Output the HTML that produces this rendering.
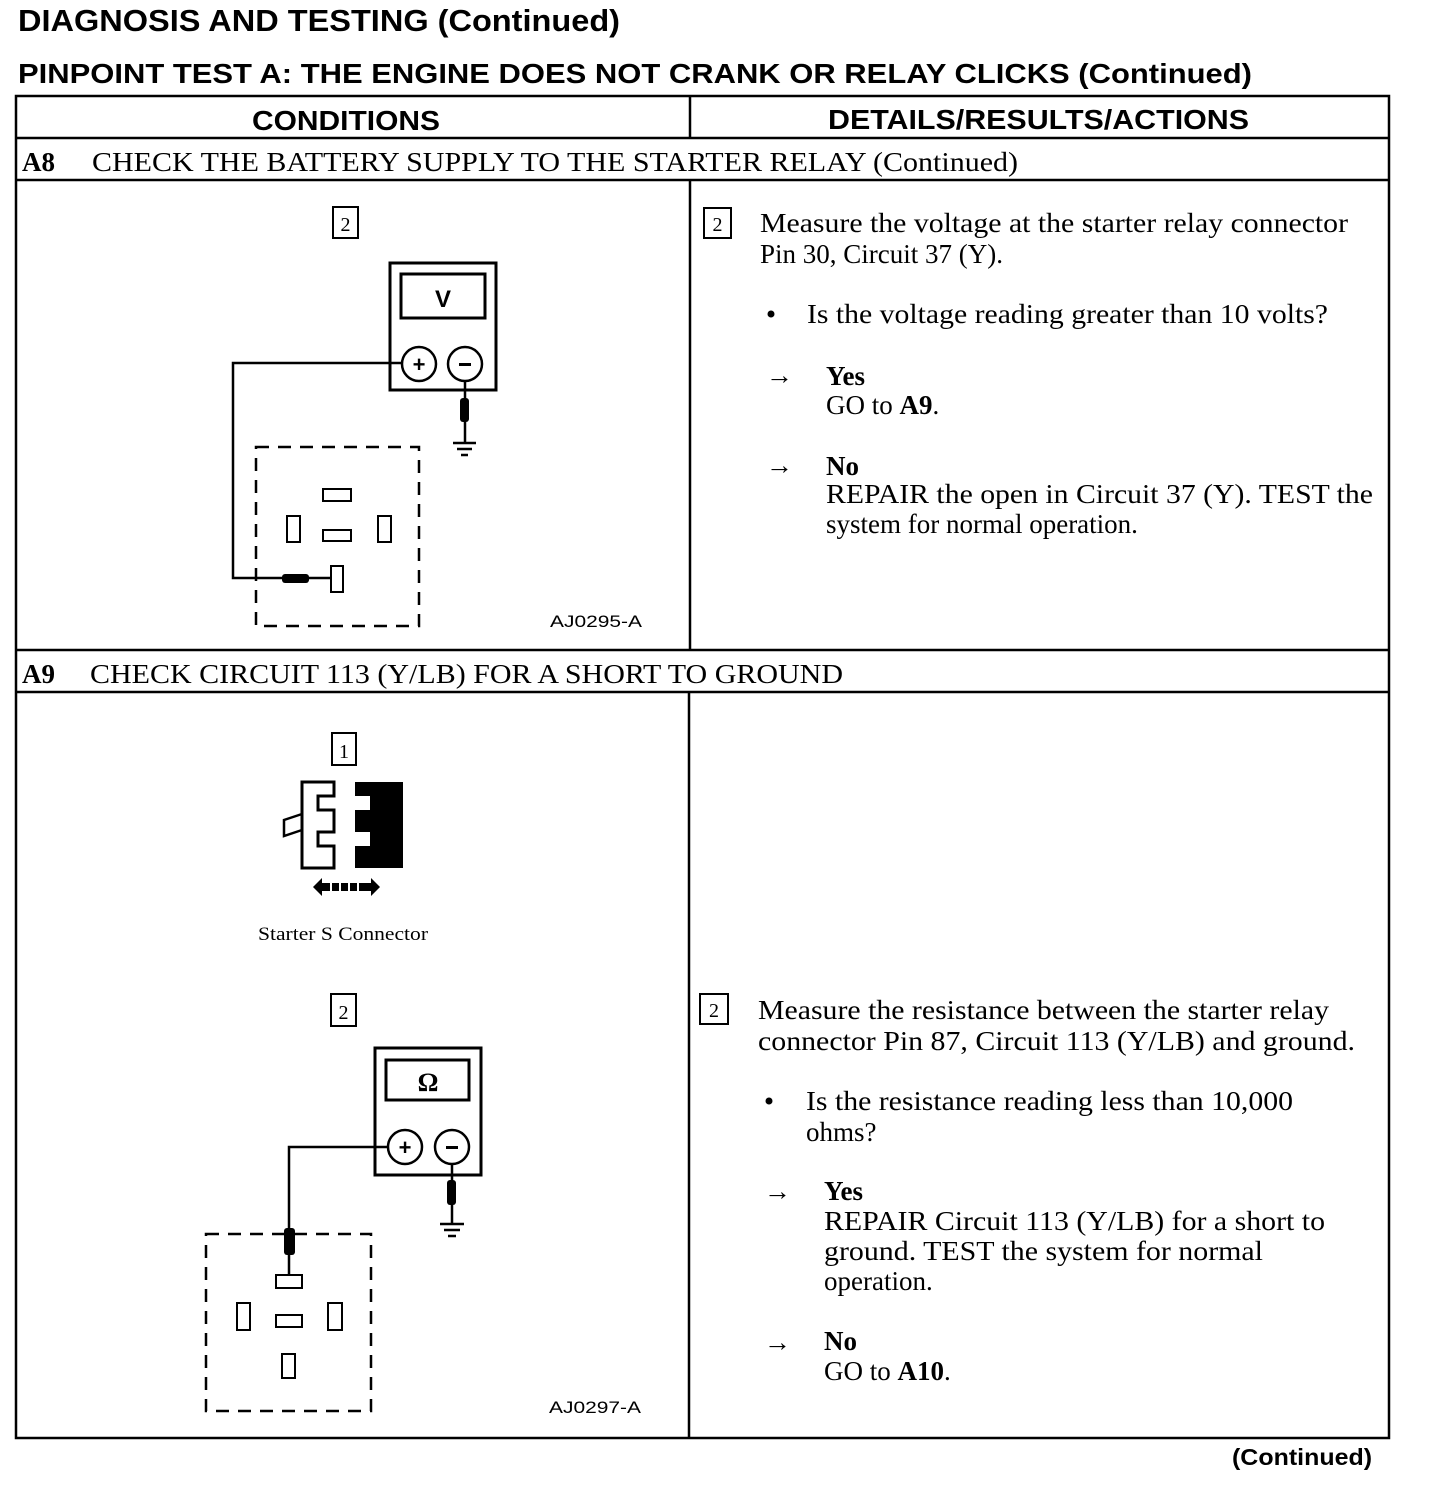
<!DOCTYPE html>
<html><head><meta charset="utf-8"><style>
html,body{margin:0;padding:0;background:#fff;}
svg{display:block;}
.s{font-family:"Liberation Sans",sans-serif;font-weight:bold;}
.r{font-family:"Liberation Serif",serif;font-size:27px;}
.b{font-weight:bold;}
</style></head><body>
<svg width="1440" height="1490" viewBox="0 0 1440 1490" xmlns="http://www.w3.org/2000/svg">
<g fill="#000">
<text class="s" x="18" y="31" font-size="31" textLength="602" lengthAdjust="spacingAndGlyphs">DIAGNOSIS AND TESTING (Continued)</text>
<text class="s" x="18" y="83" font-size="28" textLength="1234" lengthAdjust="spacingAndGlyphs">PINPOINT TEST A:  THE ENGINE DOES NOT CRANK OR RELAY CLICKS (Continued)</text>
<text class="s" x="252" y="130" font-size="28" textLength="188" lengthAdjust="spacingAndGlyphs">CONDITIONS</text>
<text class="s" x="828" y="129" font-size="28" textLength="421" lengthAdjust="spacingAndGlyphs">DETAILS/RESULTS/ACTIONS</text>
<text class="r b" x="22" y="171">A8</text>
<text class="r" x="92" y="171" textLength="926" lengthAdjust="spacingAndGlyphs">CHECK THE BATTERY SUPPLY TO THE STARTER RELAY (Continued)</text>
<text class="r b" x="22" y="683">A9</text>
<text class="r" x="90" y="683" textLength="753" lengthAdjust="spacingAndGlyphs">CHECK CIRCUIT 113 (Y/LB) FOR A SHORT TO GROUND</text>
<text class="s" x="1232" y="1465" font-size="23" textLength="140" lengthAdjust="spacingAndGlyphs">(Continued)</text>
</g>
<!-- table -->
<g stroke="#000" stroke-width="2.5" fill="none">
<rect x="16" y="96" width="1373" height="1342"/>
<line x1="16" y1="138" x2="1389" y2="138"/>
<line x1="16" y1="180" x2="1389" y2="180"/>
<line x1="16" y1="650" x2="1389" y2="650"/>
<line x1="16" y1="692" x2="1389" y2="692"/>
<line x1="690" y1="96" x2="690" y2="138"/>
<line x1="690" y1="180" x2="690" y2="650"/>
<line x1="689" y1="692" x2="689" y2="1438"/>
</g>
<!-- A8 right text -->
<g fill="#000">
<rect x="704" y="208" width="27" height="30" fill="none" stroke="#000" stroke-width="2"/>
<text x="717.5" y="231" font-family="Liberation Serif,serif" font-size="20" text-anchor="middle">2</text>
<text class="r" x="760" y="232" textLength="588" lengthAdjust="spacingAndGlyphs">Measure the voltage at the starter relay connector</text>
<text class="r" x="760" y="263">Pin 30, Circuit 37 (Y).</text>
<circle cx="771" cy="314" r="3.5"/>
<text class="r" x="807" y="323" textLength="521" lengthAdjust="spacingAndGlyphs">Is the voltage reading greater than 10 volts?</text>
<text class="r" x="766" y="384">→</text>
<text class="r b" x="826" y="385">Yes</text>
<text class="r" x="826" y="414">GO to <tspan class="b">A9</tspan>.</text>
<text class="r" x="766" y="474">→</text>
<text class="r b" x="826" y="475">No</text>
<text class="r" x="826" y="503" textLength="547" lengthAdjust="spacingAndGlyphs">REPAIR the open in Circuit 37 (Y). TEST the</text>
<text class="r" x="826" y="533">system for normal operation.</text>
<text x="550" y="627" font-family="Liberation Sans,sans-serif" font-size="17" textLength="92" lengthAdjust="spacingAndGlyphs">AJ0295-A</text>
</g>
<!-- A9 right text -->
<g fill="#000">
<rect x="700" y="994" width="28" height="30" fill="none" stroke="#000" stroke-width="2"/>
<text x="714" y="1017" font-family="Liberation Serif,serif" font-size="20" text-anchor="middle">2</text>
<text class="r" x="758" y="1019" textLength="571" lengthAdjust="spacingAndGlyphs">Measure the resistance between the starter relay</text>
<text class="r" x="758" y="1050" textLength="597" lengthAdjust="spacingAndGlyphs">connector Pin 87, Circuit 113 (Y/LB) and ground.</text>
<circle cx="769" cy="1101" r="3.5"/>
<text class="r" x="806" y="1110" textLength="487" lengthAdjust="spacingAndGlyphs">Is the resistance reading less than 10,000</text>
<text class="r" x="806" y="1141">ohms?</text>
<text class="r" x="764" y="1200">→</text>
<text class="r b" x="824" y="1200">Yes</text>
<text class="r" x="824" y="1230" textLength="501" lengthAdjust="spacingAndGlyphs">REPAIR Circuit 113 (Y/LB) for a short to</text>
<text class="r" x="824" y="1260" textLength="439" lengthAdjust="spacingAndGlyphs">ground. TEST the system for normal</text>
<text class="r" x="824" y="1290">operation.</text>
<text class="r" x="764" y="1351">→</text>
<text class="r b" x="824" y="1350">No</text>
<text class="r" x="824" y="1380">GO to <tspan class="b">A10</tspan>.</text>
<text x="549" y="1413" font-family="Liberation Sans,sans-serif" font-size="17" textLength="92" lengthAdjust="spacingAndGlyphs">AJ0297-A</text>
</g>
<!-- Diagram A8 -->
<g stroke="#000" stroke-width="2.5" fill="none">
<rect x="333" y="207" width="25" height="31" stroke-width="2"/>
<rect x="390" y="263" width="106" height="127" stroke-width="3"/>
<rect x="401" y="274" width="84" height="44" stroke-width="3"/>
<circle cx="419" cy="364" r="17"/>
<circle cx="465" cy="364" r="17"/>
<polyline points="402,363 233,363 233,578 331,578"/>
<line x1="465" y1="381" x2="465" y2="443"/>
<line x1="453" y1="443" x2="476" y2="443"/>
<line x1="457" y1="449" x2="472" y2="449"/>
<line x1="461" y1="455" x2="468" y2="455"/>
<rect x="256" y="447" width="163" height="179" stroke-dasharray="13,9"/>
<rect x="323" y="489" width="28" height="12" stroke-width="2"/>
<rect x="287" y="516" width="13" height="26" stroke-width="2"/>
<rect x="323" y="530" width="28" height="11" stroke-width="2"/>
<rect x="378" y="516" width="13" height="26" stroke-width="2"/>
<rect x="331" y="566" width="12" height="26" stroke-width="2"/>
</g>
<text x="345.5" y="231" font-family="Liberation Serif,serif" font-size="20" text-anchor="middle">2</text>
<text x="443" y="307" font-family="Liberation Sans,sans-serif" font-weight="bold" font-size="24" text-anchor="middle">V</text>
<text x="419" y="372" font-family="Liberation Sans,sans-serif" font-weight="bold" font-size="22" text-anchor="middle">+</text>
<rect x="459" y="363" width="12" height="3"/>
<rect x="460" y="398" width="9" height="24" rx="3"/>
<rect x="282" y="574" width="27" height="9" rx="3"/>
<!-- Diagram A9 -->
<g stroke="#000" stroke-width="2.5" fill="none">
<rect x="332" y="733" width="24" height="32" stroke-width="2"/>
<path d="M302,782 H334 V796 H318 V810 H334 V832 H318 V846 H334 V868 H302 Z" stroke-width="3"/>
<path d="M302,814 L284,820 L284,836 L302,830" stroke-width="2.5"/>
<rect x="331" y="994" width="25" height="32" stroke-width="2"/>
<rect x="375" y="1048" width="106" height="127" stroke-width="3"/>
<rect x="386" y="1060" width="83" height="40" stroke-width="3"/>
<circle cx="405" cy="1147" r="17"/>
<circle cx="452" cy="1147" r="17"/>
<polyline points="388,1147 289,1147 289,1276"/>
<line x1="452" y1="1164" x2="452" y2="1224"/>
<line x1="440" y1="1224" x2="464" y2="1224"/>
<line x1="444" y1="1230" x2="460" y2="1230"/>
<line x1="448" y1="1236" x2="456" y2="1236"/>
<rect x="206" y="1234" width="165" height="177" stroke-dasharray="13,9"/>
<rect x="276" y="1275" width="26" height="13" stroke-width="2"/>
<rect x="237" y="1303" width="13" height="27" stroke-width="2"/>
<rect x="276" y="1315" width="26" height="12" stroke-width="2"/>
<rect x="328" y="1303" width="14" height="27" stroke-width="2"/>
<rect x="282" y="1354" width="13" height="24" stroke-width="2"/>
</g>
<path d="M355,782 H403 V868 H355 V846 H370 V832 H355 V810 H370 V796 H355 Z" fill="#000"/>
<path d="M313,887 L322,878 V883 H371 V878 L380,887 L371,896 V891 H322 V896 Z" fill="#000"/>
<g stroke="#fff" stroke-width="2"><line x1="331" y1="882" x2="331" y2="892"/><line x1="340" y1="882" x2="340" y2="892"/><line x1="349" y1="882" x2="349" y2="892"/><line x1="358" y1="882" x2="358" y2="892"/></g>
<text x="344" y="758" font-family="Liberation Serif,serif" font-size="20" text-anchor="middle">1</text>
<text x="343" y="940" font-family="Liberation Serif,serif" font-size="19" text-anchor="middle" textLength="170" lengthAdjust="spacingAndGlyphs">Starter S Connector</text>
<text x="343.5" y="1019" font-family="Liberation Serif,serif" font-size="20" text-anchor="middle">2</text>
<text x="428" y="1091" font-family="Liberation Serif,serif" font-weight="bold" font-size="26" text-anchor="middle">Ω</text>
<text x="405" y="1155" font-family="Liberation Sans,sans-serif" font-weight="bold" font-size="22" text-anchor="middle">+</text>
<rect x="446" y="1146" width="12" height="3"/>
<rect x="447" y="1180" width="9" height="25" rx="3"/>
<rect x="284" y="1228" width="11" height="27" rx="3"/>
</svg>
</body></html>
